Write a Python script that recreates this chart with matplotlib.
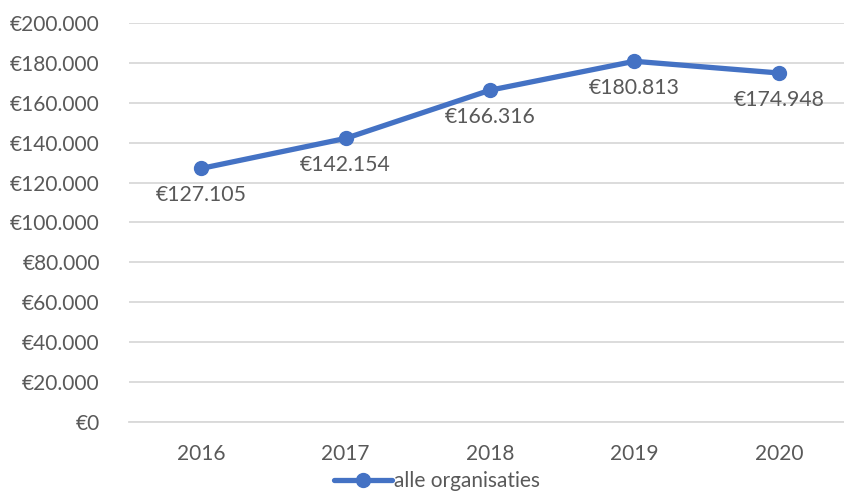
import matplotlib.pyplot as plt
from matplotlib.ticker import FuncFormatter

# data
years = ["2016", "2017", "2018", "2019", "2020"]
values = [127105, 142154, 166316, 180813, 174948]
series_name = "alle organisaties"

BLUE = "#4472C4"
TEXT = "#595959"
GRID = "#D9D9D9"

plt.rcParams["font.family"] = ["Lato", "DejaVu Sans"]


def euro(v, pos=None):
    return "€" + f"{int(round(v)):,}".replace(",", ".")


fig = plt.figure(figsize=(8.44, 4.92), dpi=100)
# plot area runs a little past the right edge, like the source
ax = fig.add_axes([129 / 844, 70 / 492, 722 / 844, 399 / 492])

x = list(range(len(years)))
ax.plot(x, values, color=BLUE, linewidth=3.8, marker="o", markersize=10,
        solid_capstyle="round", label=series_name, zorder=3)

for xi, v in zip(x, values):
    ax.annotate(euro(v), (xi, v), xytext=(0, -12), textcoords="offset points",
                ha="center", va="top", fontsize=15.3, color=TEXT)

ax.set_xlim(-0.5, len(years) - 0.5)
ax.set_ylim(0, 200000)
ax.set_yticks(range(0, 200001, 20000))
ax.yaxis.set_major_formatter(FuncFormatter(euro))
ax.set_xticks(x)
ax.set_xticklabels(years)

ax.grid(axis="y", color=GRID, linewidth=1.3)
ax.set_axisbelow(True)
for s in ["top", "right", "left"]:
    ax.spines[s].set_visible(False)
ax.spines["bottom"].set_color(GRID)
ax.spines["bottom"].set_linewidth(1.3)
ax.tick_params(axis="both", length=0, labelsize=15, colors=TEXT)
ax.tick_params(axis="y", pad=21)
ax.tick_params(axis="x", pad=16)

fig.legend(loc="center", bbox_to_anchor=(437 / 844, 1 - 481 / 492),
           frameon=False, fontsize=15, labelcolor=TEXT, handlelength=2.8,
           handletextpad=0.1, borderpad=0)

fig.savefig("out.png", dpi=100)
